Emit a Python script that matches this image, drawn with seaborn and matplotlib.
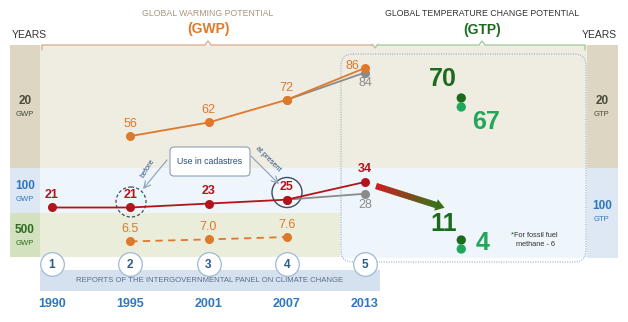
import numpy as np
import pandas as pd
import matplotlib
matplotlib.use("Agg")
import matplotlib.pyplot as plt
import matplotlib.transforms as mtransforms
from matplotlib.patches import Rectangle, FancyBboxPatch, Circle, Polygon
import seaborn as sns

sns.set_theme(style="white")
plt.rcParams['font.family'] = ['Liberation Sans', 'DejaVu Sans']
NARROW = ['Liberation Sans Narrow', 'Liberation Sans', 'DejaVu Sans']

# ---------------- data ----------------
years = [1990, 1995, 2001, 2007, 2013]
reports = [1, 2, 3, 4, 5]
gwp20 = [np.nan, 56, 62, 72, 86]
gwp20_alt = [np.nan, np.nan, np.nan, 72, 84]      # grey branch (AR5 without feedback)
gwp100 = [21, 21, 23, 25, 34]
gwp100_alt = [np.nan, np.nan, np.nan, 25, 28]
gwp500 = [np.nan, 6.5, 7.0, 7.6, np.nan]
gtp20 = [70, 67]
gtp100 = [11, 4]
gtp_shade = ['dark', 'light']

# ---------------- colours ----------------
ORANGE = '#e0782a'
RED = '#b3141c'
GREY = '#8a8a8a'
DKGREEN = '#1c6b1c'
LTGREEN = '#22a65a'
BLUE = '#2f78c0'
NAVY = '#2a5b8c'

W, H = 628, 322
fig = plt.figure(figsize=(6.28, 3.22), dpi=100)
bg = fig.add_axes([0, 0, 1, 1], zorder=0)
bg.set_xlim(0, W)
bg.set_ylim(H, 0)
bg.axis('off')

# x layout: report 1 at 52px, 78.25 px per report
X0, DX = 52, 78.25
XLIM = (1 - X0 / DX, 1 + (W - X0) / DX)
GTP_X = 6.23


def ylim_for(v_ref, p_ref, ppu):
    return (v_ref - (H - p_ref) / ppu, v_ref + p_ref / ppu)


def data_ax(v_ref, p_ref, ppu, z=2):
    ax = fig.add_axes([0, 0, 1, 1], zorder=z)
    ax.patch.set_alpha(0)
    ax.set_xlim(*XLIM)
    ax.set_ylim(*ylim_for(v_ref, p_ref, ppu))
    ax.axis('off')
    return ax


# ---------------- backgrounds ----------------
def rect(x0, y0, x1, y1, color, z=0.5, **kw):
    bg.add_patch(Rectangle((x0, y0), x1 - x0, y1 - y0, facecolor=color,
                           edgecolor='none', zorder=z, **kw))

rect(40, 45, 587, 168, '#efece2')
rect(40, 168, 587, 213, '#eef5fb')
rect(340, 213, 587, 258, '#eef5fb')
rect(40, 213, 340, 257, '#e9edda')
rect(10, 45, 40, 168, '#dcd6c2')
rect(10, 168, 40, 213, '#dde8f4')
rect(10, 213, 40, 257, '#d3e1bf')
rect(587, 45, 618, 168, '#dcd6c2')
rect(587, 168, 618, 258, '#dde8f4')

# GTP dotted box
bg.add_patch(FancyBboxPatch((341, 54), 245, 208, boxstyle='round,pad=0,rounding_size=12',
                            facecolor='none', edgecolor='#9ab0c2', lw=0.8,
                            linestyle=(0, (1, 1.2)), zorder=1))

# braces
bg.plot([42, 42, 205, 208, 211, 373], [50, 45, 45, 41, 45, 45], color='#d9a98c', lw=0.9, zorder=1)
bg.plot([377, 479, 482, 485, 585, 585], [45, 45, 41, 45, 45, 50], color='#9cc89c', lw=0.9, zorder=1)
bg.plot([372, 375, 378], [44, 48, 44], color='#b8c0a0', lw=0.8, zorder=1)

# titles
bg.text(208, 13, 'GLOBAL WARMING POTENTIAL', ha='center', va='center', fontsize=6.3, color='#a8957e')
bg.text(208, 29, '(GWP)', ha='center', va='center', fontsize=10, fontweight='bold', color=ORANGE)
bg.text(482, 13, 'GLOBAL TEMPERATURE CHANGE POTENTIAL', ha='center', va='center', fontsize=6.3, color='#333333')
bg.text(482, 30, '(GTP)', ha='center', va='center', fontsize=10, fontweight='bold', color=DKGREEN)
bg.text(12, 35, 'YEARS', ha='left', va='center', fontsize=7.5, color='#333333')
bg.text(617, 35, 'YEARS', ha='right', va='center', fontsize=7.5, color='#333333')

# side labels
side = [(25, 107, '20', 'GWP', '#4a4a3a'), (25, 192, '100', 'GWP', BLUE), (25, 236, '500', 'GWP', '#2e6b1e')]
for x, y, num, lab_, c in side:
    bg.text(x, y - 6, num, ha='center', va='center', fontsize=8.5, fontweight='bold', color=c, family=NARROW)
    bg.text(x, y + 7, lab_, ha='center', va='center', fontsize=5.5, color=c)
side_r = [(602, 107, '20', 'GTP', '#4a4a3a'), (602, 212, '100', 'GTP', BLUE)]
for x, y, num, lab_, c in side_r:
    bg.text(x, y - 6, num, ha='center', va='center', fontsize=8.5, fontweight='bold', color=c, family=NARROW)
    bg.text(x, y + 7, lab_, ha='center', va='center', fontsize=5.5, color=c)

# reports band
rect(40, 270, 380, 291, '#d6e1ef', z=0.8)
bg.text(210, 281, 'REPORTS OF THE INTERGOVERNMENTAL PANEL ON CLIMATE CHANGE', ha='center',
        va='center', fontsize=5.6, color='#5a6f8a', zorder=1)

# ---------------- data axes ----------------
S20 = (72, 99.8, 2.27)
S100 = (25.33, 199, 1.963)
S500 = (7.03, 239.3, 4.0)
SG20 = (70, 98, 3.0)
SG100 = (11, 240, 1.286)
ax20 = data_ax(*S20)
ax100 = data_ax(*S100)
ax500 = data_ax(*S500)
axg20 = data_ax(*SG20)
axg100 = data_ax(*SG100)

df20 = pd.DataFrame({'report': reports, 'gwp': gwp20, 'alt': gwp20_alt})
df100 = pd.DataFrame({'report': reports, 'gwp': gwp100, 'alt': gwp100_alt})
df500 = pd.DataFrame({'report': reports, 'gwp': gwp500})

line_kw = dict(marker='o', markersize=6.5, markeredgewidth=0, linewidth=1.3, legend=False)
sns.lineplot(data=df20.dropna(subset=['alt']), x='report', y='alt', ax=ax20, color=GREY, **line_kw)
sns.lineplot(data=df20.dropna(subset=['gwp']), x='report', y='gwp', ax=ax20, color=ORANGE, **line_kw)
sns.lineplot(data=df100.dropna(subset=['alt']), x='report', y='alt', ax=ax100, color=GREY, **line_kw)
sns.lineplot(data=df100, x='report', y='gwp', ax=ax100, color=RED, **line_kw)
sns.lineplot(data=df500.dropna(), x='report', y='gwp', ax=ax500, color=ORANGE,
             linestyle=(0, (4, 3)), **line_kw)


def lab(ax, x, v, txt, color, dx=0, dy=4.5, ha='center', va='bottom', size=9, weight='normal'):
    ax.annotate(txt, (x, v), xytext=(dx, dy), textcoords='offset points', ha=ha, va=va,
                fontsize=size, color=color, fontweight=weight, family=NARROW)

for r, v in zip(reports, gwp20):
    if np.isnan(v):
        continue
    if r == 5:
        lab(ax20, r, v, f'{v:g}', ORANGE, dx=-4, dy=1.5, ha='right', va='center')
    else:
        lab(ax20, r, v, f'{v:g}', ORANGE)
lab(ax20, 5, gwp20_alt[4], f'{gwp20_alt[4]:g}', GREY, dy=-3.5, va='top')
for r, v in zip(reports, gwp100):
    lab(ax100, r, v, f'{v:g}', RED, dy=5, weight='bold')
lab(ax100, 5, gwp100_alt[4], f'{gwp100_alt[4]:g}', GREY, dy=-3.5, va='top')
for r, v in zip(reports, gwp500):
    if not np.isnan(v):
        lab(ax500, r, v, f'{v:.1f}', ORANGE)

# GTP dots
dfg20 = pd.DataFrame({'x': [GTP_X] * 2, 'v': gtp20, 'shade': gtp_shade})
dfg100 = pd.DataFrame({'x': [GTP_X] * 2, 'v': gtp100, 'shade': gtp_shade})
pal = {'dark': DKGREEN, 'light': LTGREEN}
sns.scatterplot(data=dfg20, x='x', y='v', hue='shade', palette=pal, s=45, linewidth=0, ax=axg20, legend=False)
sns.scatterplot(data=dfg100, x='x', y='v', hue='shade', palette=pal, s=45, linewidth=0, ax=axg100, legend=False)

# restore layout limits after seaborn drawing
for ax, sc in ((ax20, S20), (ax100, S100), (ax500, S500), (axg20, SG20), (axg100, SG100)):
    ax.set_xlim(*XLIM)
    ax.set_ylim(*ylim_for(*sc))
    ax.axis('off')

lab(axg20, GTP_X, gtp20[0], f'{gtp20[0]}', DKGREEN, dx=-3, dy=5, ha='right', va='bottom', size=18, weight='bold')
lab(axg20, GTP_X, gtp20[1], f'{gtp20[1]}', LTGREEN, dx=8, dy=-2.5, ha='left', va='top', size=18, weight='bold')
lab(axg100, GTP_X, gtp100[0], f'{gtp100[0]}', DKGREEN, dx=-3, dy=3, ha='right', va='bottom', size=18, weight='bold')
lab(axg100, GTP_X, gtp100[1], f'{gtp100[1]}', LTGREEN, dx=10, dy=4, ha='left', va='center', size=18, weight='bold')

bg.text(512, 235, '*', fontsize=5.5, color=DKGREEN, ha='center', va='center', zorder=3)
bg.text(536, 240, 'For fossil fuel\nmethane - 6', fontsize=5.3, color='#333333', ha='center',
        va='center', linespacing=1.3, zorder=3)

# gradient arrow from AR5 GWP100 to GTP100
p0 = np.array([376, 186]); p1 = np.array([436, 205])
n = 40
c0 = np.array(matplotlib.colors.to_rgb('#cc1b1b')); c1 = np.array(matplotlib.colors.to_rgb('#3b6e17'))
for i in range(n):
    a = p0 + (p1 - p0) * i / n
    b = p0 + (p1 - p0) * (i + 1.3) / n
    bg.plot([a[0], b[0]], [a[1], b[1]], color=c0 + (c1 - c0) * i / (n - 1), lw=4.5,
            solid_capstyle='butt', zorder=3)
d = (p1 - p0) / np.linalg.norm(p1 - p0); nrm = np.array([-d[1], d[0]])
tip = p1 + d * 9
bg.add_patch(Polygon([p1 + nrm * 6, tip, p1 - nrm * 6], closed=True, facecolor='#3b6e17',
                     edgecolor='none', zorder=3))

# "Use in cadastres" call-out
bg.add_patch(FancyBboxPatch((170, 147), 80, 29, boxstyle='round,pad=0,rounding_size=4',
                            facecolor='white', edgecolor='#8aa0b8', lw=0.8, zorder=3))
bg.text(210, 161.5, 'Use in cadastres', ha='center', va='center', fontsize=6.3, color='#2a4f7a', zorder=4)
bg.annotate('', xy=(143, 189), xytext=(167, 160),
            arrowprops=dict(arrowstyle='->', color='#8aa0b8', lw=0.8, shrinkA=0, shrinkB=0), zorder=3)
bg.annotate('', xy=(279, 184), xytext=(251, 156),
            arrowprops=dict(arrowstyle='->', color='#8aa0b8', lw=0.8, shrinkA=0, shrinkB=0), zorder=3)
bg.text(148, 168, 'before', rotation=58, ha='center', va='center', fontsize=5.3, color='#2a4f7a', zorder=3)
bg.text(268, 159, 'at present', rotation=-45, ha='center', va='center', fontsize=5.3, color='#2a4f7a', zorder=3)
bg.add_patch(Circle((131, 202), 15, facecolor='none', edgecolor='#3e4e66', lw=0.9,
                    linestyle=(0, (2.5, 1.8)), zorder=3))
bg.add_patch(Circle((287, 192.5), 15, facecolor='#f5f9fc', edgecolor='#3e4e66', lw=1.0, zorder=1))

# report circles & years
axr = data_ax(0, 0, 1, z=4)
blend = mtransforms.blended_transform_factory(axr.transData, bg.transData)
dfr = pd.DataFrame({'report': reports, 'year': years})
for r, yr in zip(dfr['report'], dfr['year']):
    axr.scatter([r], [264], s=290, facecolor='white', edgecolor='#9dbad6', linewidth=0.9,
                transform=blend, zorder=5)
    axr.text(r, 264.5, str(r), transform=blend, ha='center', va='center', fontsize=8.5,
             fontweight='bold', color=NAVY, zorder=6, family=NARROW)
    axr.text(r, 304, str(yr), transform=blend, ha='center', va='center', fontsize=9,
             fontweight='bold', color=BLUE, zorder=6, family=NARROW)

fig.savefig('out.png', dpi=100)
